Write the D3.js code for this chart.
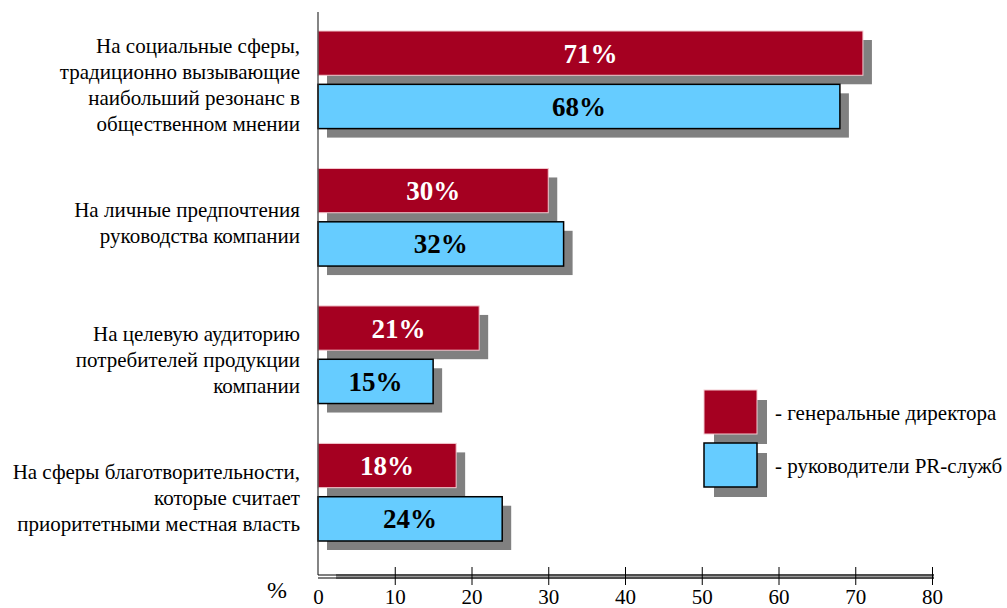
<!DOCTYPE html>
<html>
<head>
<meta charset="utf-8">
<script src="https://cdn.jsdelivr.net/npm/d3@7"></script>
<style>
  html, body { margin: 0; padding: 0; background: #fff; }
  svg { display: block; }
</style>
</head>
<body>
<svg id="chart" width="1007" height="608"></svg>
<script>
// Category labels (multi-line) and the two respondent groups
const categories = [
  ["На социальные сферы,", "традиционно вызывающие", "наибольший резонанс в", "общественном мнении"],
  ["На личные предпочтения", "руководства компании"],
  ["На целевую аудиторию", "потребителей продукции", "компании"],
  ["На сферы благотворительности,", "которые считает", "приоритетными местная власть"]
];
const seriesNames = ["- генеральные директора", "- руководители PR-служб"];
const directors = [71, 30, 21, 18];
const prHeads = [68, 32, 15, 24];
const xTicks = [0, 10, 20, 30, 40, 50, 60, 70, 80];

const colors = ["#A50021", "#66CCFF"];
const labelColors = ["#ffffff", "#000000"];
const shadow = "#808080";
const serif = '"Liberation Serif", "Times New Roman", serif';

const svg = d3.select("#chart");

const x = d3.scaleLinear().domain([0, 80]).range([318, 932]);
const y = d3.scaleBand().domain(d3.range(categories.length)).range([31, 541]).paddingInner(0.29).paddingOuter(0);
const sub = d3.scaleBand().domain([0, 1]).range([0, y.bandwidth()]).paddingInner(0.17);

const off = 9;
const groups = svg.selectAll("g.grp").data(categories).enter().append("g")
  .attr("class", "grp")
  .attr("transform", (d, i) => `translate(0,${y(i)})`);

groups.each(function (lines, i) {
  const g = d3.select(this);
  const vals = [directors[i], prHeads[i]];
  vals.forEach((v, s) => {
    // drop shadow
    g.append("rect")
      .attr("x", x(0) + off).attr("y", sub(s) + off)
      .attr("width", x(v) - x(0)).attr("height", sub.bandwidth())
      .attr("fill", shadow);
  });
  vals.forEach((v, s) => {
    g.append("rect")
      .attr("x", x(0)).attr("y", sub(s))
      .attr("width", x(v) - x(0)).attr("height", sub.bandwidth())
      .attr("fill", colors[s])
      .attr("stroke", s === 0 ? "#f3c9d0" : "#000")
      .attr("stroke-width", s === 0 ? 1 : 1.5);
    g.append("text")
      .attr("x", (x(0) + x(v)) / 2).attr("y", sub(s) + sub.bandwidth() / 2)
      .attr("dy", "0.35em")
      .attr("text-anchor", "middle")
      .style("font-family", serif)
      .style("font-weight", "bold")
      .style("font-size", "27px")
      .attr("fill", labelColors[s])
      .text(v + "%");
  });
  // category label, centred on the group
  const lh = 26;
  const cy = y.bandwidth() / 2 + 5;
  const t = g.append("text")
    .attr("text-anchor", "end")
    .style("font-family", serif)
    .style("font-size", "21px")
    .attr("fill", "#000");
  lines.forEach((ln, k) => {
    t.append("tspan")
      .attr("x", 300)
      .attr("y", cy + (k - (lines.length - 1) / 2) * lh)
      .attr("dy", "0.35em")
      .text(ln);
  });
});

// horizontal axis: double line with grey shadow band
const axY = 575;

// vertical axis line
svg.append("line")
  .attr("x1", x(0)).attr("x2", x(0))
  .attr("y1", 12).attr("y2", axY)
  .attr("stroke", "#333").attr("stroke-width", 1.2);

svg.append("rect")
  .attr("x", x(0) + 18).attr("y", axY - 1)
  .attr("width", x(80) - x(0) - 16).attr("height", 5)
  .attr("fill", "#999");
svg.append("line").attr("x1", x(0)).attr("x2", x(80) + 2)
  .attr("y1", axY).attr("y2", axY).attr("stroke", "#000").attr("stroke-width", 1);
svg.append("line").attr("x1", x(0)).attr("x2", x(80) + 2)
  .attr("y1", axY + 3).attr("y2", axY + 3).attr("stroke", "#000").attr("stroke-width", 1);

const axis = d3.axisBottom(x).tickValues(xTicks).tickSize(0).tickFormat(d3.format("d"));
const axG = svg.append("g").attr("transform", `translate(0,${axY + 1})`).call(axis);
axG.select(".domain").remove();
axG.selectAll(".tick line").remove();
axG.selectAll(".tick").filter(d => d > 0).append("line")
  .attr("y1", -9).attr("y2", 9).attr("stroke", "#000").attr("stroke-width", 1);
axG.selectAll(".tick text")
  .attr("y", 13).attr("dy", "0.71em")
  .style("font-size", "21px")
  .style("font-family", serif)
  .attr("fill", "#000");

svg.append("text").attr("x", 277).attr("y", 598)
  .attr("text-anchor", "middle").style("font-family", serif)
  .style("font-size", "24px").text("%");

// legend
const lg = svg.append("g").attr("transform", "translate(704,390)");
seriesNames.forEach((name, s) => {
  const yy = s * 53;
  lg.append("rect").attr("x", 10).attr("y", yy + 10).attr("width", 53).attr("height", 44).attr("fill", shadow);
});
seriesNames.forEach((name, s) => {
  const yy = s * 53;
  lg.append("rect").attr("x", 0).attr("y", yy).attr("width", 53).attr("height", 44)
    .attr("fill", colors[s])
    .attr("stroke", s === 0 ? "#f3c9d0" : "#000")
    .attr("stroke-width", s === 0 ? 1 : 1.5);
  lg.append("text").attr("x", 71).attr("y", yy + 23).attr("dy", "0.35em")
    .style("font-family", serif)
    .style("font-size", "21px").text(name);
});
</script>
</body>
</html>
